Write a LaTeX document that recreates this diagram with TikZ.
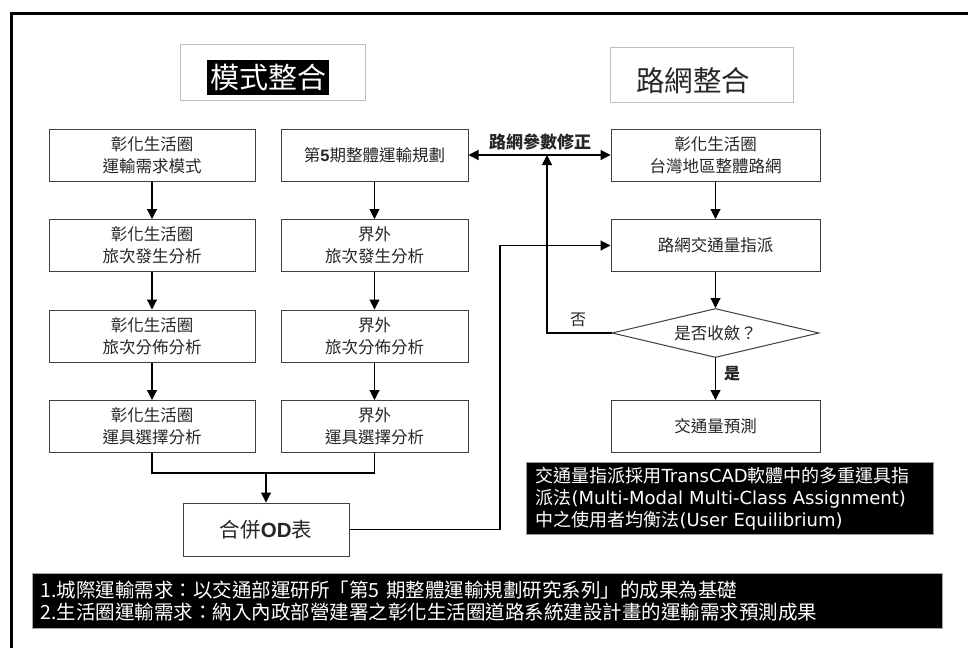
\documentclass[tikz,border=0pt]{standalone}
\usepackage{fontspec}
\setmainfont{Noto Sans CJK TC}
\newfontfamily\lat{Liberation Sans}
\newfontfamily\dvs{DejaVu Sans}
\usetikzlibrary{arrows.meta,shapes.geometric}
\tikzset{
  box/.style={draw=black!75, line width=1pt, fill=white, minimum height=52pt, align=center,
    font=\fontsize{16.5}{22}\selectfont, text=black!85, inner sep=0pt},
  lbox/.style={box, minimum width=206pt},
  mbox/.style={box, minimum width=187pt},
  rbox/.style={box, minimum width=209pt},
  ln/.style={line width=1.1pt, draw=black},
  arr/.style={ln, -{Triangle[length=10pt,width=10pt]}},
  darr/.style={ln, {Triangle[length=10pt,width=10pt]}-{Triangle[length=10pt,width=10pt]}},
  titlebox/.style={draw=black!25, line width=1pt, fill=white},
}
\begin{document}
\begin{tikzpicture}[x=1pt,y=-1pt]
\useasboundingbox (0,0) rectangle (968,648);
\fill[white] (0,0) rectangle (968,648);
% frame
\draw[line width=3pt] (11,648) -- (11,13) -- (968,13);

% titles
\node[titlebox, minimum width=185pt, minimum height=56pt] (t1) at (272.5,72) {};
\node[fill=black, text=white, inner sep=0pt, minimum width=122pt, minimum height=35pt,
  font=\fontsize{29}{29}\selectfont] (t1t) at (268,77) {模式整合};
\node[titlebox, minimum width=183pt, minimum height=55pt] (t2) at (701.5,74.5) {};
\node[inner sep=0pt, font=\fontsize{28.5}{29}\selectfont, text=black!85] (t2t) at (693,81) {路網整合};

% left column
\node[lbox] (l1) at (152,155) {彰化生活圈\\運輸需求模式};
\node[lbox] (l2) at (152,245.5) {彰化生活圈\\旅次發生分析};
\node[lbox] (l3) at (152,336) {彰化生活圈\\旅次分佈分析};
\node[lbox] (l4) at (152,426.5) {彰化生活圈\\運具選擇分析};
% middle column
\node[mbox] (m1) at (374.5,155) {第{\lat\bfseries 5}期整體運輸規劃};
\node[mbox] (m2) at (374.5,245.5) {界外\\旅次發生分析};
\node[mbox] (m3) at (374.5,336) {界外\\旅次分佈分析};
\node[mbox] (m4) at (374.5,426.5) {界外\\運具選擇分析};
% OD
\node[box, minimum width=166pt, minimum height=53pt, font=\fontsize{20.5}{24}\selectfont] (od) at (266,529.5) {合併{\lat\bfseries OD}表};
% right column
\node[rbox] (r1) at (715.5,155) {彰化生活圈\\台灣地區整體路網};
\node[rbox] (r2) at (715.5,245.5) {路網交通量指派};
\node[diamond, draw=black!75, line width=1pt, fill=white, aspect=4, inner sep=0pt,
  minimum width=207pt, minimum height=49pt, font=\fontsize{16.5}{22}\selectfont, text=black!85] (dia) at (715.5,333) {是否收斂？};
\node[rbox] (r3) at (715.5,426.5) {交通量預測};

% connectors
\draw[arr] (l1) -- (l2);
\draw[arr] (l2) -- (l3);
\draw[arr] (l3) -- (l4);
\draw[arr] (m1) -- (m2);
\draw[arr] (m2) -- (m3);
\draw[arr] (m3) -- (m4);
\coordinate (j) at (266,473);
\draw[ln] (l4.south) |- (j) -| (m4.south);
\draw[arr] (j) -- (od.north);
\coordinate (c1) at (500,529.5);
\draw[arr] (od.east) -- (c1) |- (r2.west);
\draw[arr] (r1) -- (r2);
\draw[arr] (r2) -- (dia.north);
\draw[arr] (dia.south) -- (r3.north);
\coordinate (c2) at (547,155);
\draw[arr] (dia.west) -| (c2);
\draw[darr] (m1.east) -- (r1.west);

% labels
\node[font=\fontsize{17}{20}\selectfont\bfseries, text=black!85, inner sep=0pt] (lp) at (540,142) {路網參數修正};
\node[font=\fontsize{16}{20}\selectfont, text=black!85, inner sep=0pt] (lno) at (578,320) {否};
\node[font=\fontsize{16}{20}\selectfont\bfseries, text=black!85, inner sep=0pt] (lyes) at (732,374) {是};

% note
\node[fill=black, draw=black!40, line width=1pt, text=white, align=left, anchor=north west,
  minimum height=72pt, text width=389pt, inner xsep=9pt, inner ysep=0pt,
  font=\fontsize{18}{22}\selectfont] (note) at (526,462)
  {交通量指派採用{\dvs TransCAD}軟體中的多重運具指\\派法{\dvs (Multi-Modal Multi-Class Assignment)}\\中之使用者均衡法{\dvs (User Equilibrium)}};

% bottom bar
\node[fill=black, draw=black!35, line width=1pt, text=white, align=left, anchor=north west,
  minimum height=55pt, text width=894pt, inner xsep=8pt, inner ysep=0pt,
  font=\fontsize{19.5}{21.5}\selectfont] (bar) at (32,573)
  {1.城際運輸需求：以交通部運研所「第5 期整體運輸規劃研究系列」的成果為基礎\\2.生活圈運輸需求：納入內政部營建署之彰化生活圈道路系統建設計畫的運輸需求預測成果};
\end{tikzpicture}
\end{document}
